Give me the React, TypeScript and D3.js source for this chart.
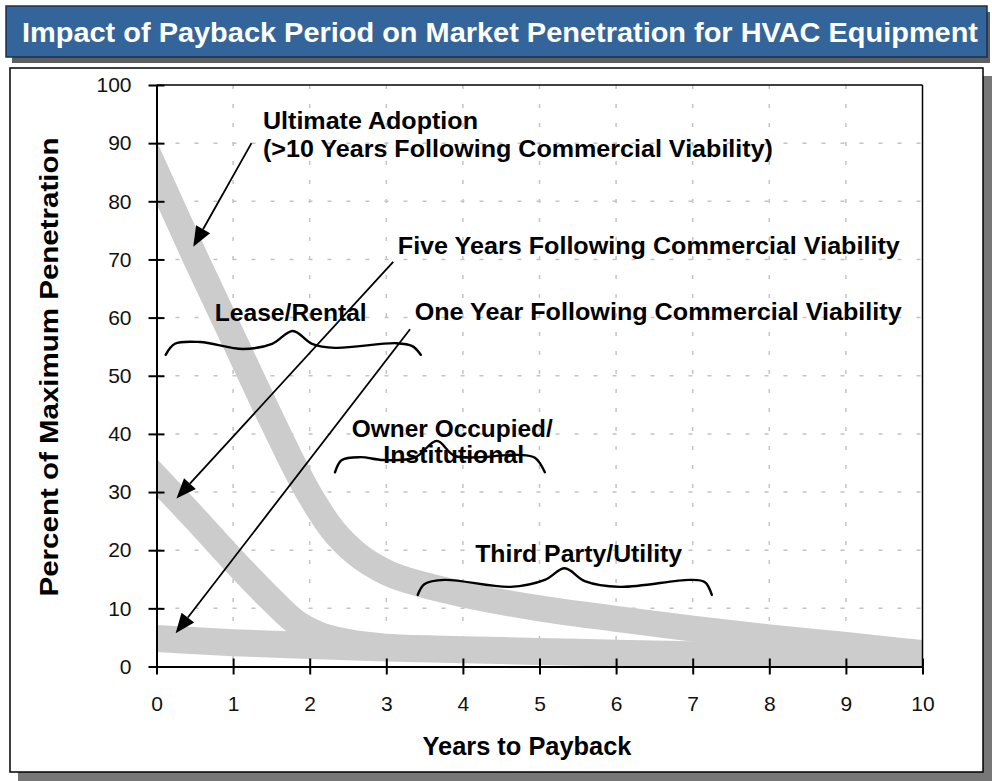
import { useEffect, useRef } from "react";
import * as d3 from "d3";

// axis ticks
const yearTicks = [0, 1, 2, 3, 4, 5, 6, 7, 8, 9, 10];
const pctTicks = [0, 10, 20, 30, 40, 50, 60, 70, 80, 90, 100];

// band centre lines (years to payback -> % of max penetration)
const ultimateYears = [0, 0.5, 1, 1.5, 2, 2.3, 2.6, 3, 3.5, 4, 5, 6, 7, 8, 9, 10];
const ultimatePct = [85, 70.5, 56.5, 42.5, 29.5, 23.5, 19.5, 16.2, 14, 12.4, 10, 8.2, 6.5, 5, 3.7, 2.3];
const fiveYearYears = [0, 0.5, 1, 1.5, 1.8, 2.1, 2.5, 3, 3.5];
const fiveYearPct = [32.5, 25.5, 18.3, 11.5, 7.8, 5.6, 4.2, 3.4, 3.1];
const oneYearYears = [0, 1, 2, 3, 4, 5, 6, 7, 8, 9, 10];
const oneYearPct = [4.8, 4.1, 3.6, 3.2, 2.9, 2.6, 2.3, 2.0, 1.7, 1.4, 1.1];

// callout labels: text, year, pct (baseline-left), width in px
const labelText = [
  "Ultimate Adoption",
  "(>10 Years Following Commercial Viability)",
  "Five Years Following Commercial Viability",
  "One Year Following Commercial Viability",
  "Lease/Rental",
  "Owner Occupied/",
  "Institutional",
  "Third Party/Utility",
];
const labelYear = [1.39, 1.39, 3.15, 3.37, 0.76, 2.55, 2.96, 4.16];
const labelPct = [92.5, 87.6, 70.9, 59.6, 59.5, 39.5, 35.0, 18.0];
const labelWidth = [215, 510, 502, 487, 152, 201, 141, 207];

// arrows: from -> to (data units)
const arrowFrom = [[1.24, 90.0], [3.09, 69.6], [3.31, 58.0]];
const arrowTo = [[0.48, 72.2], [0.26, 28.9], [0.25, 5.7]];

// hand drawn braces
const leaseBrace = [[0.12, 53.6], [0.24, 55.5], [0.57, 55.8], [1.13, 54.6], [1.51, 55.5], [1.78, 57.7], [2.03, 55.5], [2.33, 54.8], [3.13, 55.6], [3.34, 55.1], [3.45, 53.6]];
const ownerBrace = [[2.33, 33.4], [2.42, 35.5], [2.66, 36.0], [2.96, 35.5], [3.37, 35.9], [3.66, 38.8], [3.9, 36.2], [4.71, 36.4], [4.94, 35.9], [5.07, 33.4]];
const thirdBrace = [[3.41, 12.3], [3.5, 14.2], [3.76, 14.9], [4.62, 13.7], [5.07, 14.9], [5.33, 16.9], [5.59, 14.7], [6.05, 13.7], [6.97, 14.9], [7.16, 14.5], [7.25, 12.3]];

const FONT = "'Liberation Sans', Arial, sans-serif";

const App = () => {
  const svgRef = useRef<SVGSVGElement>(null);

  useEffect(() => {
    const left = 156.5;
    const right = 922.5;
    const top = 85;
    const bottom = 666.5;

    const svg = d3.select(svgRef.current);
    svg.selectAll("*").remove();

    const x = d3.scaleLinear().domain([0, 10]).range([left, right]);
    const y = d3.scaleLinear().domain([0, 100]).range([bottom, top]);

    // title bar
    svg.append("rect").attr("x", 12).attr("y", 12).attr("width", 978).attr("height", 51).attr("fill", "#5f5f5f");
    svg.append("rect").attr("x", 6).attr("y", 6).attr("width", 981).attr("height", 51)
      .attr("fill", "#34659a").attr("stroke", "#1b2f4f").attr("stroke-width", 1.5);
    svg.append("text")
      .attr("x", 500).attr("y", 42)
      .attr("text-anchor", "middle")
      .attr("fill", "#fff")
      .attr("font-family", "'Liberation Sans Narrow', 'Arial Narrow', " + FONT)
      .attr("font-weight", "bold")
      .attr("font-size", 28)
      .attr("textLength", 956)
      .attr("lengthAdjust", "spacingAndGlyphs")
      .text("Impact of Payback Period on Market Penetration for HVAC Equipment");

    // chart box
    svg.append("rect").attr("x", 18).attr("y", 76).attr("width", 974).attr("height", 705).attr("fill", "#777");
    svg.append("rect").attr("x", 10).attr("y", 68).attr("width", 973).attr("height", 704)
      .attr("fill", "#fff").attr("stroke", "#000").attr("stroke-width", 1.5);

    // grid
    const grid = svg.append("g").attr("stroke", "#c4c4c4").attr("stroke-width", 1.5).attr("stroke-dasharray", "4 15");
    grid.selectAll(".gh").data(pctTicks.slice(1, -1)).join("line")
      .attr("x1", left).attr("x2", right)
      .attr("y1", (d) => y(d)).attr("y2", (d) => y(d));
    grid.selectAll(".gv").data(yearTicks.slice(1, -1)).join("line")
      .attr("class", "gv")
      .attr("y1", top).attr("y2", bottom)
      .attr("x1", (d) => x(d)).attr("x2", (d) => x(d));

    // bands
    svg.append("clipPath").attr("id", "plotClip")
      .append("rect").attr("x", left).attr("y", top).attr("width", right - left).attr("height", bottom - top);

    const bandLine = d3.line<number[]>()
      .x((d) => x(d[0]))
      .y((d) => y(d[1]))
      .curve(d3.curveMonotoneX);

    // extend each end a little so the butt caps fall outside the clip
    const extend = (pts: number[][]) => {
      const a = pts[0], b = pts[1];
      const c = pts[pts.length - 2], e = pts[pts.length - 1];
      return [
        [a[0] - (b[0] - a[0]), a[1] - (b[1] - a[1])],
        ...pts,
        [e[0] + (e[0] - c[0]), e[1] + (e[1] - c[1])],
      ];
    };

    const bands = [
      { xs: oneYearYears, ys: oneYearPct, w: 27 },
      { xs: fiveYearYears, ys: fiveYearPct, w: 26 },
      { xs: ultimateYears, ys: ultimatePct, w: 26 },
    ];
    const bandG = svg.append("g").attr("clip-path", "url(#plotClip)");
    bandG.selectAll("path").data(bands).join("path")
      .attr("d", (b) => bandLine(extend(b.xs.map((v, i) => [v, b.ys[i]]))))
      .attr("fill", "none")
      .attr("stroke", "#cccccc")
      .attr("stroke-width", (b) => b.w);

    // plot frame
    svg.append("line").attr("x1", left).attr("x2", right).attr("y1", top).attr("y2", top).attr("stroke", "#000").attr("stroke-width", 1.5);
    svg.append("line").attr("x1", right).attr("x2", right).attr("y1", top).attr("y2", bottom).attr("stroke", "#000").attr("stroke-width", 1.5);

    // axes
    const yAxis = svg.append("g")
      .attr("transform", `translate(${left},0)`)
      .call(d3.axisLeft(y).tickValues(pctTicks).tickSize(8).tickSizeOuter(0).tickPadding(18));
    yAxis.selectAll(".tick line").clone().attr("x2", 8);
    const xAxis = svg.append("g")
      .attr("transform", `translate(0,${bottom})`)
      .call(d3.axisBottom(x).tickValues(yearTicks).tickSize(8).tickSizeOuter(0).tickPadding(22));
    xAxis.selectAll(".tick line").clone().attr("y2", -8);

    [yAxis, xAxis].forEach((g) => {
      g.select(".domain").attr("stroke", "#000").attr("stroke-width", 2);
      g.selectAll(".tick line").attr("stroke", "#000").attr("stroke-width", 2);
      g.selectAll("text").attr("font-family", FONT).attr("font-size", 21).attr("fill", "#111");
    });
    yAxis.selectAll("text").attr("x", -25);

    // axis titles
    svg.append("text")
      .attr("x", 527).attr("y", 755)
      .attr("text-anchor", "middle")
      .attr("font-family", FONT).attr("font-weight", "bold").attr("font-size", 25)
      .attr("textLength", 209).attr("lengthAdjust", "spacingAndGlyphs")
      .text("Years to Payback");
    svg.append("text")
      .attr("transform", "translate(58,367) rotate(-90)")
      .attr("text-anchor", "middle")
      .attr("font-family", FONT).attr("font-weight", "bold").attr("font-size", 26)
      .attr("textLength", 459).attr("lengthAdjust", "spacingAndGlyphs")
      .text("Percent of Maximum Penetration");

    // braces
    const braceLine = d3.line<number[]>()
      .x((d) => x(d[0]))
      .y((d) => y(d[1]))
      .curve(d3.curveCatmullRom);
    svg.append("g").selectAll("path").data([leaseBrace, ownerBrace, thirdBrace]).join("path")
      .attr("d", (d) => braceLine(d))
      .attr("fill", "none")
      .attr("stroke", "#000")
      .attr("stroke-width", 2.4)
      .attr("stroke-linecap", "round");

    // labels
    svg.append("g").selectAll("text").data(labelText).join("text")
      .attr("x", (d, i) => x(labelYear[i]))
      .attr("y", (d, i) => y(labelPct[i]))
      .attr("font-family", FONT).attr("font-weight", "bold").attr("font-size", 24)
      .attr("textLength", (d, i) => labelWidth[i])
      .attr("lengthAdjust", "spacingAndGlyphs")
      .text((d) => d);

    // arrows
    const arrowG = svg.append("g");
    arrowFrom.forEach((f, i) => {
      const t = arrowTo[i];
      const x1 = x(f[0]), y1 = y(f[1]);
      const x2 = x(t[0]), y2 = y(t[1]);
      const ang = Math.atan2(y2 - y1, x2 - x1);
      const len = 20, hw = 8;
      const bx = x2 - len * Math.cos(ang), by = y2 - len * Math.sin(ang);
      arrowG.append("line")
        .attr("x1", x1).attr("y1", y1).attr("x2", bx).attr("y2", by)
        .attr("stroke", "#000").attr("stroke-width", 1.8);
      const px = -Math.sin(ang) * hw, py = Math.cos(ang) * hw;
      arrowG.append("path")
        .attr("d", `M${x2},${y2}L${bx + px},${by + py}L${bx - px},${by - py}Z`)
        .attr("fill", "#000");
    });
  }, []);

  return (
    <svg
      ref={svgRef}
      width={992}
      height={781}
      style={{ position: "absolute", left: 0, top: 0, background: "#fff" }}
    />
  );
};

export default App;
